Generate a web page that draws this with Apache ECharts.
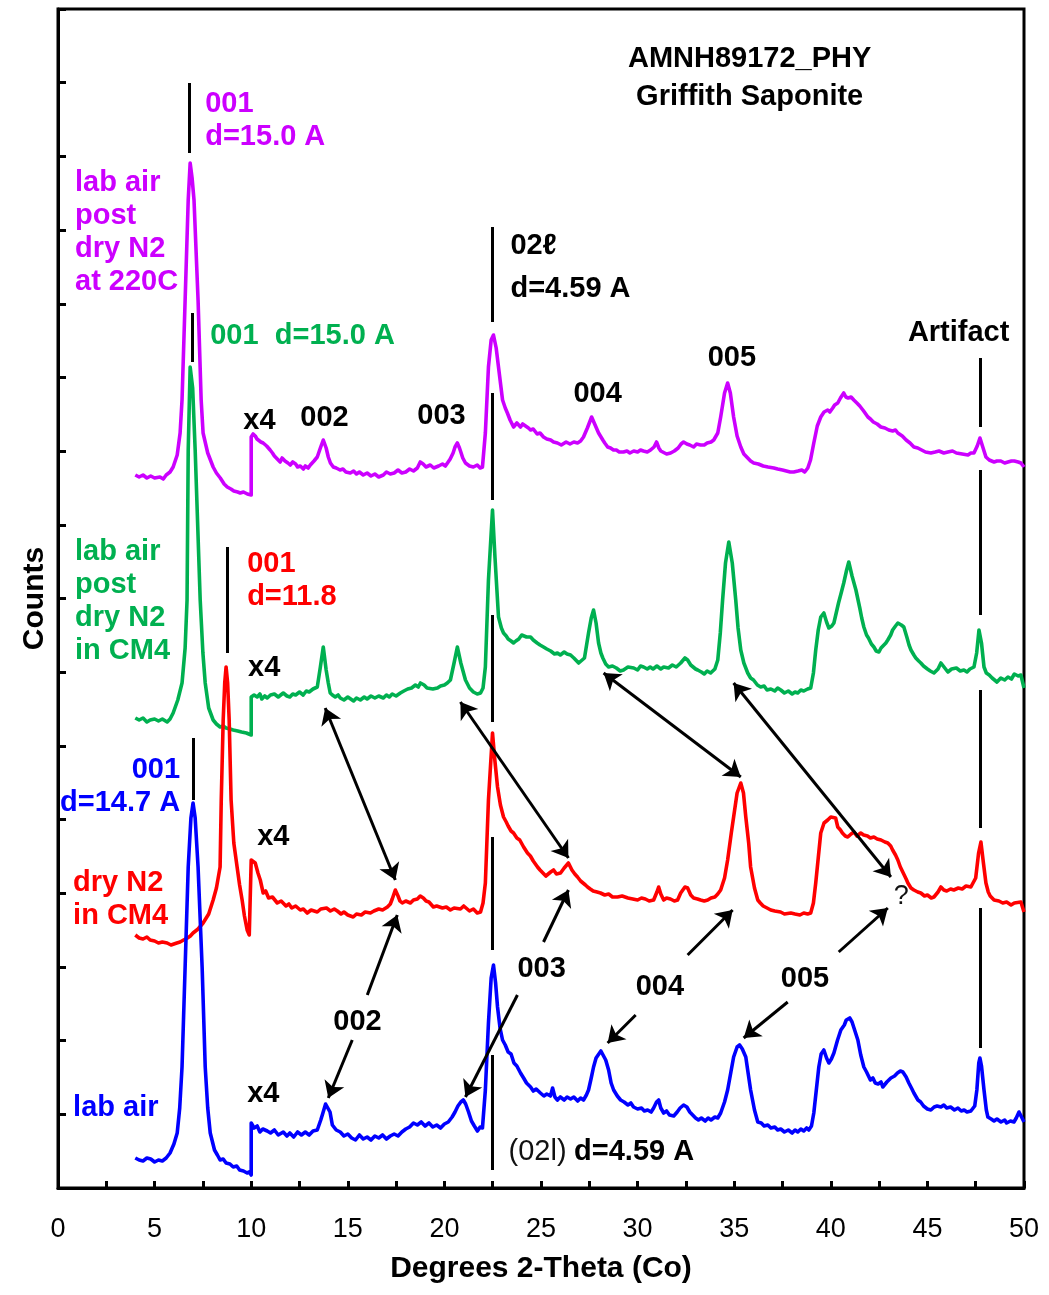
<!DOCTYPE html>
<html>
<head>
<meta charset="utf-8">
<title>AMNH89172_PHY Griffith Saponite XRD</title>
<script src="https://cdn.jsdelivr.net/npm/echarts/dist/echarts.min.js"></script>
<style>
  html, body { margin: 0; padding: 0; background: #fff; }
  #chart { width: 1049px; height: 1295px; }
</style>
</head>
<body>
<div id="chart"></div>
<script>
// XRD patterns, [2-theta (deg), counts (stacked, arbitrary units)]; x4 scaling above 10 deg
const labAir = [
[4.0,30],[4.2,28],[4.4,27],[4.6,30],[4.8,29],[5.0,26],[5.2,28],[5.4,27],[5.6,30],[5.8,35],[6.0,44],[6.17,55],[6.3,80],[6.42,121],[6.58,221],[6.74,321],[6.88,370],[6.99,385],[7.1,370],[7.25,321],[7.46,221],[7.62,121],[7.75,80],[7.88,55],[8.1,38],[8.25,33],[8.39,28],[8.55,29],[8.7,25],[8.9,24],[9.07,21],[9.25,22],[9.4,18],[9.6,17],[9.79,15],[9.9,16],[10.0,13],
[10.0,65],[10.15,60],[10.31,62],[10.45,56],[10.6,59],[10.83,57],[11.0,55],[11.2,58],[11.4,53],[11.66,56],[11.85,52],[12.0,55],[12.2,51],[12.4,56],[12.6,53],[12.8,56],[13.0,53],[13.2,57],[13.42,58],[13.6,68],[13.68,73],[13.85,84],[13.94,83],[14.08,76],[14.2,63],[14.4,58],[14.61,56],[14.8,52],[15.0,54],[15.2,50],[15.4,48],[15.6,53],[15.8,49],[16.0,51],[16.2,48],[16.4,52],[16.6,50],[16.8,53],[17.0,49],[17.2,52],[17.4,54],[17.6,52],[17.8,56],[18.0,59],[18.2,61],[18.4,65],[18.6,63],[18.8,66],[19.0,62],[19.2,65],[19.4,61],[19.6,63],[19.8,60],[20.0,64],[20.2,66],[20.4,71],[20.55,76],[20.7,82],[20.85,86],[20.98,88],[21.1,84],[21.25,76],[21.4,67],[21.55,62],[21.71,57],[21.85,61],[21.97,60],[22.12,98],[22.28,165],[22.42,210],[22.54,223],[22.65,205],[22.75,181],[22.88,160],[23.01,148],[23.15,143],[23.3,136],[23.45,134],[23.6,125],[23.75,122],[23.94,115],[24.1,110],[24.25,105],[24.46,101],[24.6,97],[24.75,99],[24.97,95],[25.15,92],[25.3,94],[25.49,92],[25.6,100],[25.72,91],[25.85,88],[26.0,91],[26.2,88],[26.35,91],[26.53,89],[26.7,91],[26.9,87],[27.05,90],[27.2,88],[27.35,93],[27.46,98],[27.6,110],[27.72,121],[27.85,130],[27.95,132],[28.1,137],[28.19,136],[28.35,128],[28.5,118],[28.63,105],[28.76,98],[28.95,92],[29.12,88],[29.3,86],[29.5,83],[29.65,85],[29.79,81],[30.0,79],[30.2,80],[30.35,77],[30.52,78],[30.7,76],[30.83,80],[30.98,86],[31.09,88],[31.2,80],[31.35,75],[31.5,77],[31.65,73],[31.87,72],[32.05,76],[32.2,80],[32.38,83],[32.55,81],[32.7,76],[32.85,73],[33.0,70],[33.15,68],[33.3,70],[33.5,67],[33.65,70],[33.8,68],[34.0,71],[34.15,70],[34.3,75],[34.5,86],[34.66,98],[34.82,115],[34.97,131],[35.15,141],[35.28,143],[35.42,139],[35.6,131],[35.72,115],[35.85,98],[36.05,78],[36.22,66],[36.4,65],[36.55,62],[36.74,63],[36.9,60],[37.1,61],[37.25,58],[37.41,59],[37.6,56],[37.8,58],[38.0,55],[38.15,58],[38.29,56],[38.45,59],[38.6,57],[38.75,60],[38.86,58],[39.0,62],[39.12,75],[39.25,98],[39.38,121],[39.5,134],[39.64,138],[39.78,130],[39.9,125],[40.03,129],[40.16,135],[40.35,148],[40.52,158],[40.7,163],[40.8,168],[40.98,170],[41.1,166],[41.2,160],[41.4,148],[41.55,133],[41.71,121],[41.85,116],[41.95,112],[42.05,108],[42.18,110],[42.3,105],[42.45,104],[42.6,106],[42.69,101],[42.9,106],[43.11,110],[43.3,112],[43.45,115],[43.6,117],[43.73,116],[43.9,111],[44.04,105],[44.2,99],[44.3,95],[44.51,88],[44.65,86],[44.8,82],[45.0,79],[45.18,78],[45.35,81],[45.5,82],[45.7,81],[45.85,83],[46.0,80],[46.2,81],[46.4,78],[46.58,80],[46.75,77],[46.9,78],[47.05,76],[47.25,77],[47.45,82],[47.56,98],[47.66,125],[47.72,130],[47.8,122],[47.93,98],[48.05,78],[48.13,71],[48.3,69],[48.45,67],[48.6,69],[48.81,66],[49.0,68],[49.1,65],[49.3,67],[49.48,66],[49.6,70],[49.74,76],[49.9,70],[50.0,66]
];

const dryN2CM4 = [
[4.0,253],[4.2,250],[4.4,249],[4.6,251],[4.77,248],[5.0,247],[5.2,245],[5.4,246],[5.65,245],[5.85,243],[6.0,244],[6.15,245],[6.32,246],[6.5,248],[6.7,250],[6.85,252],[6.99,255],[7.25,259],[7.51,265],[7.8,274],[8.03,288],[8.2,300],[8.39,321],[8.45,388],[8.55,468],[8.63,505],[8.70,521],[8.78,505],[8.86,468],[8.96,388],[9.1,345],[9.27,321],[9.4,303],[9.53,288],[9.65,272],[9.79,258],[9.9,253],[10.0,251],
[10.0,328],[10.1,330],[10.21,325],[10.35,315],[10.47,308],[10.62,295],[10.75,297],[10.9,290],[11.1,291],[11.35,285],[11.55,287],[11.8,282],[11.95,284],[12.1,280],[12.3,282],[12.54,278],[12.7,279],[12.9,275],[13.1,278],[13.42,276],[13.6,279],[13.9,280],[14.1,277],[14.3,279],[14.46,277],[14.65,274],[14.8,276],[15.0,273],[15.28,271],[15.45,274],[15.7,273],[15.9,276],[16.17,275],[16.35,277],[16.6,279],[16.8,278],[17.05,281],[17.2,284],[17.3,289],[17.46,298],[17.6,292],[17.7,287],[17.82,285],[18.0,287],[18.24,285],[18.4,288],[18.6,289],[18.75,292],[18.91,290],[19.05,287],[19.2,286],[19.43,281],[19.6,282],[19.9,280],[20.1,281],[20.31,278],[20.5,280],[20.83,279],[21.0,282],[21.3,277],[21.5,279],[21.7,275],[21.87,276],[22.0,285],[22.12,305],[22.28,388],[22.49,455],[22.6,430],[22.75,401],[22.9,383],[23.06,371],[23.2,366],[23.3,362],[23.45,357],[23.58,355],[23.75,350],[23.9,348],[24.1,341],[24.3,335],[24.45,332],[24.6,327],[24.82,321],[24.95,318],[25.1,315],[25.25,312],[25.34,311],[25.5,316],[25.65,318],[25.8,314],[26.01,315],[26.2,320],[26.42,325],[26.6,318],[26.75,314],[26.89,311],[27.05,307],[27.15,305],[27.3,303],[27.41,301],[27.55,299],[27.7,297],[27.9,296],[28.08,295],[28.3,293],[28.5,294],[28.7,291],[28.96,291],[29.2,292],[29.5,290],[29.75,289],[30.0,288],[30.2,290],[30.4,289],[30.6,287],[30.83,288],[31.0,296],[31.09,301],[31.2,294],[31.35,288],[31.5,290],[31.7,289],[31.9,287],[32.07,288],[32.23,295],[32.45,301],[32.59,300],[32.75,293],[32.9,290],[33.1,289],[33.26,288],[33.45,287],[33.63,288],[33.8,290],[34.0,291],[34.15,294],[34.3,298],[34.5,310],[34.66,328],[34.85,355],[34.97,371],[35.15,395],[35.34,405],[35.48,395],[35.6,371],[35.75,345],[35.85,321],[36.05,300],[36.22,288],[36.35,285],[36.5,282],[36.7,280],[36.89,278],[37.1,277],[37.4,276],[37.6,274],[37.93,275],[38.15,274],[38.4,273],[38.6,275],[38.8,274],[38.96,275],[39.1,285],[39.22,305],[39.35,330],[39.48,355],[39.65,365],[39.84,368],[40.0,371],[40.1,373],[40.25,370],[40.36,361],[40.5,358],[40.6,355],[40.75,352],[40.88,351],[41.05,354],[41.2,356],[41.35,352],[41.55,355],[41.7,353],[41.9,352],[42.05,350],[42.23,351],[42.4,349],[42.6,348],[42.8,346],[42.95,345],[43.1,342],[43.2,338],[43.35,333],[43.47,328],[43.6,321],[43.75,315],[43.9,309],[43.99,305],[44.15,300],[44.3,298],[44.5,296],[44.66,295],[44.85,292],[45.0,293],[45.2,290],[45.34,291],[45.55,296],[45.7,301],[45.85,298],[46.0,297],[46.2,299],[46.37,298],[46.6,300],[46.8,299],[47.0,302],[47.25,301],[47.5,310],[47.65,335],[47.77,346],[47.9,325],[48.03,305],[48.15,296],[48.25,292],[48.45,288],[48.7,287],[48.9,285],[49.1,286],[49.33,283],[49.5,285],[49.6,286],[49.84,286],[50.0,276]
];

const postDryCM4 = [
[4.0,470],[4.2,468],[4.4,470],[4.6,466],[4.77,468],[5.0,469],[5.2,467],[5.4,469],[5.65,466],[5.8,469],[5.96,475],[6.2,488],[6.42,505],[6.58,540],[6.68,588],[6.74,738],[6.84,821],[6.97,800],[7.1,738],[7.36,588],[7.5,535],[7.62,505],[7.8,480],[8.03,468],[8.2,464],[8.39,461],[8.55,462],[8.7,460],[8.9,459],[9.07,458],[9.3,457],[9.5,456],[9.75,455],[10.0,453],
[10.0,491],[10.15,493],[10.31,491],[10.45,494],[10.55,489],[10.7,492],[10.83,490],[11.0,493],[11.2,494],[11.4,491],[11.66,495],[11.85,492],[12.0,491],[12.15,494],[12.3,493],[12.5,496],[12.69,493],[12.85,497],[13.0,496],[13.2,499],[13.42,501],[13.58,521],[13.73,541],[13.88,518],[13.99,505],[14.09,495],[14.2,493],[14.35,491],[14.5,493],[14.61,490],[14.8,488],[15.0,491],[15.1,489],[15.3,487],[15.45,490],[15.65,488],[15.85,491],[16.0,489],[16.2,492],[16.4,490],[16.6,492],[16.84,490],[17.0,493],[17.15,491],[17.3,494],[17.5,492],[17.72,495],[17.9,497],[18.1,499],[18.3,500],[18.5,503],[18.65,501],[18.76,505],[18.95,503],[19.1,500],[19.2,501],[19.4,499],[19.64,500],[19.8,502],[20.0,503],[20.15,505],[20.31,508],[20.5,525],[20.67,541],[20.85,525],[21.09,508],[21.3,500],[21.5,496],[21.7,494],[21.87,495],[22.0,500],[22.12,521],[22.28,608],[22.49,678],[22.62,630],[22.8,571],[22.95,560],[23.06,555],[23.2,552],[23.3,549],[23.45,547],[23.58,545],[23.7,547],[23.85,549],[24.0,553],[24.09,554],[24.25,551],[24.46,551],[24.6,548],[24.8,545],[24.95,543],[25.13,541],[25.3,539],[25.5,537],[25.7,534],[25.85,535],[26.0,533],[26.2,536],[26.35,534],[26.53,533],[26.7,530],[26.8,528],[26.95,525],[27.05,523],[27.25,530],[27.46,555],[27.6,570],[27.72,578],[27.85,565],[27.98,545],[28.1,535],[28.2,530],[28.35,524],[28.5,521],[28.7,522],[28.9,520],[29.1,517],[29.27,518],[29.5,521],[29.8,520],[30.0,518],[30.15,522],[30.31,521],[30.5,519],[30.65,521],[30.8,519],[31.0,522],[31.2,519],[31.35,521],[31.6,520],[31.8,523],[32.0,521],[32.23,525],[32.45,530],[32.59,528],[32.75,523],[32.85,521],[33.0,519],[33.11,518],[33.3,516],[33.45,514],[33.6,517],[33.78,515],[34.0,519],[34.15,528],[34.28,555],[34.4,588],[34.55,625],[34.72,646],[34.9,625],[35.08,588],[35.2,560],[35.34,538],[35.5,525],[35.7,515],[35.85,510],[36.0,508],[36.2,503],[36.37,501],[36.55,502],[36.7,498],[36.9,499],[37.1,497],[37.25,500],[37.41,498],[37.6,495],[37.8,497],[38.0,494],[38.15,496],[38.29,495],[38.45,498],[38.6,497],[38.8,499],[38.96,500],[39.1,515],[39.22,538],[39.35,558],[39.48,571],[39.64,575],[39.78,566],[39.9,560],[40.05,562],[40.16,565],[40.28,575],[40.4,585],[40.55,596],[40.67,605],[40.82,618],[40.93,626],[41.1,612],[41.3,598],[41.5,580],[41.6,570],[41.71,561],[41.85,553],[41.95,550],[42.1,544],[42.23,541],[42.35,537],[42.49,536],[42.6,540],[42.7,541],[42.85,545],[42.95,548],[43.1,553],[43.2,558],[43.35,562],[43.47,565],[43.65,563],[43.78,561],[43.95,550],[44.05,543],[44.15,538],[44.3,533],[44.4,530],[44.55,527],[44.66,525],[44.8,522],[45.0,519],[45.15,517],[45.34,515],[45.55,519],[45.7,525],[45.9,520],[46.06,516],[46.25,519],[46.5,520],[46.7,517],[46.89,518],[47.05,516],[47.2,519],[47.41,521],[47.55,535],[47.67,558],[47.8,545],[47.93,521],[48.05,515],[48.2,513],[48.35,510],[48.45,508],[48.6,506],[48.8,510],[49.0,508],[49.17,511],[49.35,509],[49.5,514],[49.7,512],[49.84,513],[50.0,500]
];

const postDry220C = [
[4.0,713],[4.2,711],[4.4,713],[4.6,710],[4.8,712],[5.0,710],[5.28,711],[5.45,709],[5.6,713],[5.8,716],[5.96,721],[6.17,733],[6.32,755],[6.42,788],[6.58,888],[6.74,988],[6.84,1025],[6.94,1010],[7.04,988],[7.25,888],[7.41,788],[7.51,755],[7.75,735],[8.03,721],[8.2,715],[8.4,710],[8.6,704],[8.76,701],[8.95,699],[9.1,697],[9.3,696],[9.43,695],[9.6,696],[9.8,694],[9.9,692],[10.0,693],
[10.0,751],[10.1,754],[10.21,752],[10.3,749],[10.4,750],[10.5,746],[10.62,745],[10.7,747],[10.8,742],[10.9,740],[10.98,738],[11.1,735],[11.2,732],[11.35,729],[11.5,726],[11.6,730],[11.75,727],[11.9,725],[12.02,723],[12.15,726],[12.3,724],[12.4,721],[12.54,722],[12.7,719],[12.8,722],[12.95,720],[13.06,723],[13.25,727],[13.42,731],[13.58,740],[13.73,748],[13.88,740],[13.99,731],[14.1,725],[14.25,721],[14.4,720],[14.6,718],[14.75,719],[14.9,716],[15.13,715],[15.3,717],[15.45,714],[15.6,716],[15.8,713],[16.0,715],[16.2,712],[16.4,714],[16.6,711],[16.84,713],[17.0,716],[17.2,714],[17.4,715],[17.6,718],[17.8,715],[18.0,716],[18.2,719],[18.4,717],[18.6,720],[18.75,726],[18.9,724],[19.05,721],[19.27,723],[19.45,720],[19.7,722],[19.9,724],[20.05,722],[20.16,725],[20.3,729],[20.45,735],[20.55,741],[20.67,745],[20.78,740],[20.85,736],[20.95,730],[21.09,725],[21.3,722],[21.5,721],[21.7,723],[21.85,720],[21.97,721],[22.12,755],[22.28,821],[22.42,848],[22.54,853],[22.68,840],[22.8,821],[23.01,788],[23.15,780],[23.26,775],[23.4,768],[23.58,761],[23.75,765],[23.94,761],[24.05,764],[24.2,762],[24.35,760],[24.46,758],[24.6,759],[24.8,754],[24.95,755],[25.13,751],[25.3,749],[25.5,748],[25.65,746],[25.85,745],[26.05,743],[26.3,746],[26.5,744],[26.7,746],[26.89,745],[27.05,747],[27.2,751],[27.4,760],[27.62,771],[27.8,763],[27.98,755],[28.2,748],[28.3,745],[28.45,741],[28.6,740],[28.75,738],[28.9,738],[29.05,736],[29.27,736],[29.45,737],[29.6,735],[29.8,737],[30.0,736],[30.15,738],[30.3,737],[30.5,736],[30.67,738],[30.85,741],[30.98,746],[31.1,740],[31.2,737],[31.3,736],[31.5,734],[31.71,735],[31.9,737],[32.1,740],[32.25,744],[32.38,746],[32.55,744],[32.7,743],[32.9,741],[33.05,744],[33.26,743],[33.45,743],[33.6,745],[33.8,746],[33.94,748],[34.15,755],[34.3,771],[34.5,795],[34.66,805],[34.8,795],[34.97,771],[35.15,752],[35.34,741],[35.5,734],[35.7,730],[35.85,727],[36.01,725],[36.25,724],[36.5,722],[36.75,721],[37.05,720],[37.25,719],[37.5,718],[37.7,717],[37.9,716],[38.08,716],[38.3,717],[38.5,718],[38.65,716],[38.81,720],[38.95,728],[39.12,745],[39.3,762],[39.48,771],[39.65,776],[39.84,778],[39.95,776],[40.1,780],[40.2,783],[40.36,785],[40.5,790],[40.67,795],[40.78,791],[40.9,790],[41.05,791],[41.19,788],[41.35,785],[41.5,782],[41.7,777],[41.92,771],[42.05,769],[42.2,766],[42.4,764],[42.59,761],[42.8,760],[43.0,758],[43.2,757],[43.35,758],[43.47,755],[43.7,752],[43.9,748],[44.1,745],[44.3,741],[44.5,740],[44.7,738],[44.9,736],[45.18,735],[45.4,736],[45.6,737],[45.85,735],[46.06,736],[46.3,737],[46.5,735],[46.8,734],[47.1,733],[47.25,735],[47.41,735],[47.58,742],[47.72,750],[47.85,742],[48.03,731],[48.2,728],[48.45,726],[48.6,727],[48.8,727],[49.0,725],[49.17,726],[49.35,727],[49.5,727],[49.7,726],[49.84,725],[50.0,721]
];

// axis settings
const xMin = 0, xMax = 50, xStep = 2.5, xLabelStep = 5;
const yMax = 1179, yTickCount = 16;

// reflection position guides: [2-theta, from, to]
const peakGuides = [
  [6.8, 1035, 1105], [6.95, 826, 875], [8.76, 535, 641], [6.99, 388, 450],
  [22.5, 866, 961], [22.5, 688, 795], [22.5, 466, 573], [22.5, 238, 351], [22.5, 18, 133],
  [47.72, 761, 830], [47.72, 573, 718], [47.72, 360, 498], [47.72, 140, 280]
];

// peak correspondences between patterns (double-headed)
const shiftArrows = [
  [[13.83, 480], [17.46, 308]],
  [[20.83, 486], [26.42, 330]],
  [[28.24, 515], [35.34, 411]],
  [[34.97, 505], [43.11, 311]]
];
// reflection labels pointing to their peaks (tail, head)
const labelArrows = [
  [[16.01, 193], [17.56, 273]],
  [[15.23, 148], [13.99, 90]],
  [[25.13, 246], [26.42, 298]],
  [[23.78, 193], [21.09, 91]],
  [[32.59, 233], [34.92, 278]],
  [[29.90, 173], [28.45, 145]],
  [[40.41, 236], [42.95, 280]],
  [[37.77, 186], [35.49, 150]]
];

// text notes: [2-theta, counts, text, anchor]
const blackNotes = [
  [35.8, 1110, 'AMNH89172_PHY\nGriffith Saponite', 'middle'],
  [9.59, 767, 'x4', 'start'], [9.84, 520, 'x4', 'start'], [10.31, 351, 'x4', 'start'], [9.79, 94, 'x4', 'start'],
  [12.54, 770, '002', 'start'], [18.6, 772, '003', 'start'], [26.68, 794, '004', 'start'], [33.63, 830, '005', 'start'],
  [43.99, 855, 'Artifact', 'start'],
  [23.42, 942, '02\u2113', 'start'], [23.42, 899, 'd=4.59 A', 'start'],
  [14.25, 166, '002', 'start'], [23.78, 219, '003', 'start'], [29.9, 201, '004', 'start'], [37.41, 209, '005', 'start']
];
const purpleNotes = [
  [7.62, 1068, '001\nd=15.0 A', 'start'],
  [0.88, 956, 'lab air\npost\ndry N2\nat 220C', 'start']
];
const greenNotes = [
  [7.88, 852, '001  d=15.0 A', 'start'],
  [0.88, 587, 'lab air\npost\ndry N2\nin CM4', 'start']
];
const redNotes = [
  [9.79, 608, '001\nd=11.8', 'start'],
  [0.78, 289, 'dry N2\nin CM4', 'start']
];
const blueNotes = [
  [6.32, 402, '001\nd=14.7 A', 'end'],
  [0.78, 80, 'lab air', 'start']
];
const plainNotes = [
  [43.26, 291, '?', 'start'],
  [23.32, 36, '{n|(02l)} {b|d=4.59 A}', 'start']
];

const COLORS = { purple: '#cc00ff', green: '#00b050', red: '#ff0000', blue: '#0000ff', black: '#000000' };
const FONT = 'Arial, "Liberation Sans", Helvetica, sans-serif';

const POS = { start: 'right', end: 'left', middle: 'inside' };

function noteSeries(name, notes, color, extra) {
  return Object.assign({
    name: name,
    type: 'scatter',
    symbolSize: 0,
    silent: true,
    z: 10,
    itemStyle: { color: 'transparent' },
    data: notes.map(n => ({
      value: [n[0], n[1]],
      label: {
        show: true,
        position: POS[n[3]],
        distance: 0,
        formatter: n[2],
        color: color,
        opacity: 1,
        fontFamily: FONT,
        fontWeight: 'bold',
        fontSize: 29,
        lineHeight: n[2].indexOf('Griffith') >= 0 ? 38 : 33,
        align: n[3] === 'end' ? 'right' : (n[3] === 'middle' ? 'center' : 'left')
      }
    }))
  }, extra || {});
}

function traceSeries(name, data, color) {
  return {
    name: name,
    type: 'line',
    data: data,
    showSymbol: false,
    symbol: 'none',
    silent: true,
    lineStyle: { color: color, width: 3.6, join: 'round' },
    itemStyle: { color: color },
    z: 3
  };
}

const guideLines = peakGuides.map(g => [
  { coord: [g[0], g[1]], symbol: 'none' },
  { coord: [g[0], g[2]], symbol: 'none' }
]);
const arrowLines = shiftArrows.map(a => [
  { coord: a[0], symbol: 'arrow' },
  { coord: a[1], symbol: 'arrow' }
]).concat(labelArrows.map(a => [
  { coord: a[0], symbol: 'none' },
  { coord: a[1], symbol: 'arrow' }
]));

const chart = echarts.init(document.getElementById('chart'), null, { renderer: 'canvas' });

chart.setOption({
  animation: false,
  backgroundColor: '#ffffff',
  grid: {
    left: 58, right: 25, top: 9, bottom: 107,
    show: true, borderColor: '#000', borderWidth: 3, backgroundColor: 'transparent'
  },
  xAxis: {
    type: 'value',
    min: xMin, max: xMax, interval: xStep,
    name: 'Degrees 2-Theta (Co)',
    nameLocation: 'middle',
    nameGap: 66,
    nameTextStyle: { fontFamily: FONT, fontWeight: 'bold', fontSize: 30, color: '#000' },
    axisLine: { lineStyle: { color: '#000', width: 3 } },
    axisTick: { inside: true, length: 7, lineStyle: { color: '#000', width: 3 } },
    axisLabel: {
      margin: 28,
      fontFamily: FONT, fontSize: 27, color: '#000',
      formatter: v => (Math.abs(v % xLabelStep) < 1e-6 ? String(v) : '')
    },
    splitLine: { show: false }
  },
  yAxis: {
    type: 'value',
    min: 0, max: yMax, interval: yMax / yTickCount,
    name: 'Counts',
    nameLocation: 'middle',
    nameGap: 8,
    nameTextStyle: { fontFamily: FONT, fontWeight: 'bold', fontSize: 30, color: '#000' },
    axisLine: { lineStyle: { color: '#000', width: 3 } },
    axisTick: { inside: true, length: 8, lineStyle: { color: '#000', width: 3 } },
    axisLabel: { show: false },
    splitLine: { show: false }
  },
  series: [
    traceSeries('lab air post dry N2 at 220C', postDry220C, COLORS.purple),
    traceSeries('lab air post dry N2 in CM4', postDryCM4, COLORS.green),
    traceSeries('dry N2 in CM4', dryN2CM4, COLORS.red),
    traceSeries('lab air', labAir, COLORS.blue),
    noteSeries('notes', blackNotes, COLORS.black, {
      markLine: {
        silent: true,
        animation: false,
        symbolSize: 16,
        label: { show: false },
        lineStyle: { color: '#000', width: 3, type: 'solid', opacity: 1 },
        emphasis: { disabled: true },
        data: guideLines.concat(arrowLines)
      }
    }),
    noteSeries('purple notes', purpleNotes, COLORS.purple),
    noteSeries('green notes', greenNotes, COLORS.green),
    noteSeries('red notes', redNotes, COLORS.red),
    noteSeries('blue notes', blueNotes, COLORS.blue),
    {
      name: 'plain notes',
      type: 'scatter',
      symbolSize: 0,
      silent: true,
      z: 10,
      itemStyle: { color: 'transparent' },
      data: plainNotes.map(n => ({
        value: [n[0], n[1]],
        label: {
          show: true,
          position: POS[n[3]],
          distance: 0,
          formatter: n[2],
          color: '#111',
          opacity: 1,
          fontFamily: FONT,
          fontSize: 27,
          rich: {
            n: { fontFamily: FONT, fontSize: 29, fontWeight: 'normal', color: '#111', opacity: 1 },
            b: { fontFamily: FONT, fontSize: 29, fontWeight: 'bold', color: '#000', opacity: 1 }
          }
        }
      }))
    }
  ]
});
</script>
</body>
</html>
